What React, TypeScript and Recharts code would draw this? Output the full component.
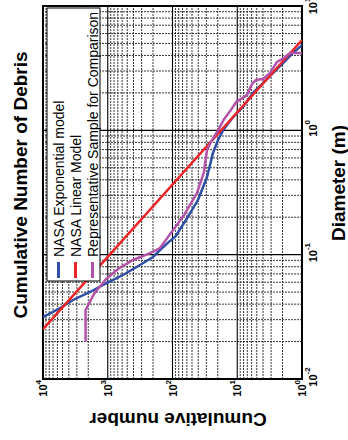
import { LineChart, Line, XAxis, YAxis, ReferenceLine, ReferenceArea } from 'recharts';

const FONT = '"Liberation Sans", Arial, Helvetica, sans-serif';

// diameter (m) vs cumulative number
const expDiameter = [0.0315, 0.0372, 0.0432, 0.0501, 0.0592, 0.0686, 0.0826, 0.0958, 0.109, 0.125, 0.14, 0.19, 0.275, 0.421, 0.658, 0.836, 1.0, 1.28, 1.54, 2.0, 2.4, 2.89, 3.48, 4.19, 4.85];
const expCount = [10000, 5460, 3440, 1880, 1028, 581, 318, 200, 156, 117, 90, 62, 40.4, 29.3, 23.7, 19.8, 16.6, 11.6, 8.15, 5.71, 4.0, 2.81, 1.96, 1.38, 1.0];

const linDiameter = [0.0252, 5.33];
const linCount = [10000, 1];

const sampleDiameter = [0.0199, 0.0359, 0.0483, 0.0637, 0.0767, 0.0906, 0.103, 0.113, 0.139, 0.208, 0.313, 0.462, 0.695, 0.836, 1.0, 1.23, 1.46, 1.69, 1.79, 1.92, 2.36, 2.54, 2.59, 2.89, 3.55, 3.82, 4.19, 4.19];
const sampleCount = [2200, 2200, 1630, 1064, 695, 407, 222, 156, 117, 66.4, 41.9, 32.7, 29.3, 24.5, 19.8, 16.0, 12.5, 10.4, 8.75, 7.07, 5.92, 5.13, 4.0, 3.12, 2.43, 1.9, 1.53, 1.0];

const xTicks = [0.01, 0.1, 1, 10];
const yTicks = [1, 10, 100, 1000, 10000];

// log grid lines
const xMinor = [0.02, 0.03, 0.04, 0.05, 0.06, 0.07, 0.08, 0.09, 0.2, 0.3, 0.4, 0.5, 0.6, 0.7, 0.8, 0.9, 2, 3, 4, 5, 6, 7, 8, 9];
const xMajor = [0.1, 1];
const yMinor = [2, 3, 4, 5, 6, 7, 8, 9, 20, 30, 40, 50, 60, 70, 80, 90, 200, 300, 400, 500, 600, 700, 800, 900, 2000, 3000, 4000, 5000, 6000, 7000, 8000, 9000];
const yMajor = [10, 100, 1000];

const legendItems = [
  { label: 'NASA Exponential model', color: '#2f4fa6' },
  { label: 'NASA Linear Model', color: '#ee2326' },
  { label: 'Representative Sample for Comparison', color: '#b452aa' },
];

const toPoints = (ds: number[], ns: number[]) => ds.map((d, i) => ({ d, n: ns[i] }));

const XTick = ({ x, y, payload }: any) => {
  const exp = Math.round(Math.log10(payload.value));
  return (
    <text x={x + 2} y={y + 15} textAnchor="middle" fontSize={11} fontWeight="bold" fill="#000" fontFamily={FONT}>
      10<tspan dy={-7} fontSize={8}>{exp}</tspan>
    </text>
  );
};

const YTick = ({ x, y, payload }: any) => {
  const exp = Math.round(Math.log10(payload.value));
  return (
    <text x={x - 1} y={y + 4} textAnchor="end" fontSize={11} fontWeight="bold" fill="#000" fontFamily={FONT}>
      10<tspan dy={-6} fontSize={8}>{exp}</tspan>
    </text>
  );
};

// legend box sits on top of the grid, so it is drawn as an overlay
const LegendBox = () => (
  <svg width={275} height={55} style={{ position: 'absolute', left: 158, top: 46 }}>
    <rect x={1} y={1} width={273} height={53} fill="#fff" stroke="#000" strokeWidth={1} />
    {legendItems.map((item, i) => (
      <g key={item.label}>
        <line x1={4} x2={20} y1={12.5 + i * 17} y2={12.5 + i * 17} stroke={item.color} strokeWidth={3} />
        <text x={25} y={17.5 + i * 17} fontSize={14} fill="#000" fontFamily={FONT}>
          {item.label}
        </text>
      </g>
    ))}
  </svg>
);

export default function App() {
  const expData = toPoints(expDiameter, expCount);
  const linData = toPoints(linDiameter, linCount);
  const sampleData = toPoints(sampleDiameter, sampleCount);

  return (
    <div style={{ position: 'absolute', left: 0, top: 0, width: 348, height: 440, overflow: 'hidden', background: '#fff' }}>
      <div
        style={{
          position: 'absolute',
          left: 0,
          top: 0,
          width: 440,
          height: 348,
          transformOrigin: '0 0',
          transform: 'translate(0px, 440px) rotate(-90deg)',
        }}
      >
        <LineChart width={440} height={348} margin={{ top: 43, right: 6, bottom: 0, left: 0 }}>
          <XAxis
            dataKey="d"
            type="number"
            scale="log"
            domain={[0.01, 10]}
            ticks={xTicks}
            allowDataOverflow
            height={46}
            axisLine={false}
            tickLine={false}
            tickSize={0}
            tickMargin={0}
            tick={XTick}
          />
          <YAxis
            dataKey="n"
            type="number"
            scale="log"
            domain={[1, 10000]}
            ticks={yTicks}
            allowDataOverflow
            width={61}
            axisLine={false}
            tickLine={false}
            tickSize={0}
            tickMargin={0}
            tick={YTick}
          />
          {xMinor.map((v) => (
            <ReferenceLine key={'xm' + v} x={v} stroke="#222" strokeWidth={0.9} strokeDasharray="2 1" />
          ))}
          {yMinor.map((v) => (
            <ReferenceLine key={'ym' + v} y={v} stroke="#222" strokeWidth={0.9} strokeDasharray="2 1" />
          ))}
          {xMajor.map((v) => (
            <ReferenceLine key={'xM' + v} x={v} stroke="#000" strokeWidth={1.1} />
          ))}
          {yMajor.map((v) => (
            <ReferenceLine key={'yM' + v} y={v} stroke="#000" strokeWidth={1.1} />
          ))}
          <Line data={expData} dataKey="n" type="linear" stroke="#2f4fa6" strokeWidth={2.5} dot={false} isAnimationActive={false} />
          <Line data={linData} dataKey="n" type="linear" stroke="#ee2326" strokeWidth={2.5} dot={false} isAnimationActive={false} />
          <Line data={sampleData} dataKey="n" type="linear" stroke="#b452aa" strokeWidth={2.5} dot={false} isAnimationActive={false} />
          <ReferenceArea x1={0.01} x2={10} y1={1} y2={10000} fill="none" fillOpacity={0} stroke="#000" strokeWidth={2} />

          <text x={255} y={27} textAnchor="middle" fontSize={19} fontWeight="bold" fill="#000" fontFamily={FONT}>
            Cumulative Number of Debris
          </text>
          <text x={257} y={345} textAnchor="middle" fontSize={19} fontWeight="bold" fill="#000" fontFamily={FONT}>
            Diameter (m)
          </text>
          <text
            x={27}
            y={178}
            transform="rotate(-90, 27, 178)"
            textAnchor="middle"
            fontSize={19}
            fontWeight="bold"
            fill="#000"
            fontFamily={FONT}
          >
            Cumulative number
          </text>
        </LineChart>
        <LegendBox />
      </div>
    </div>
  );
}
